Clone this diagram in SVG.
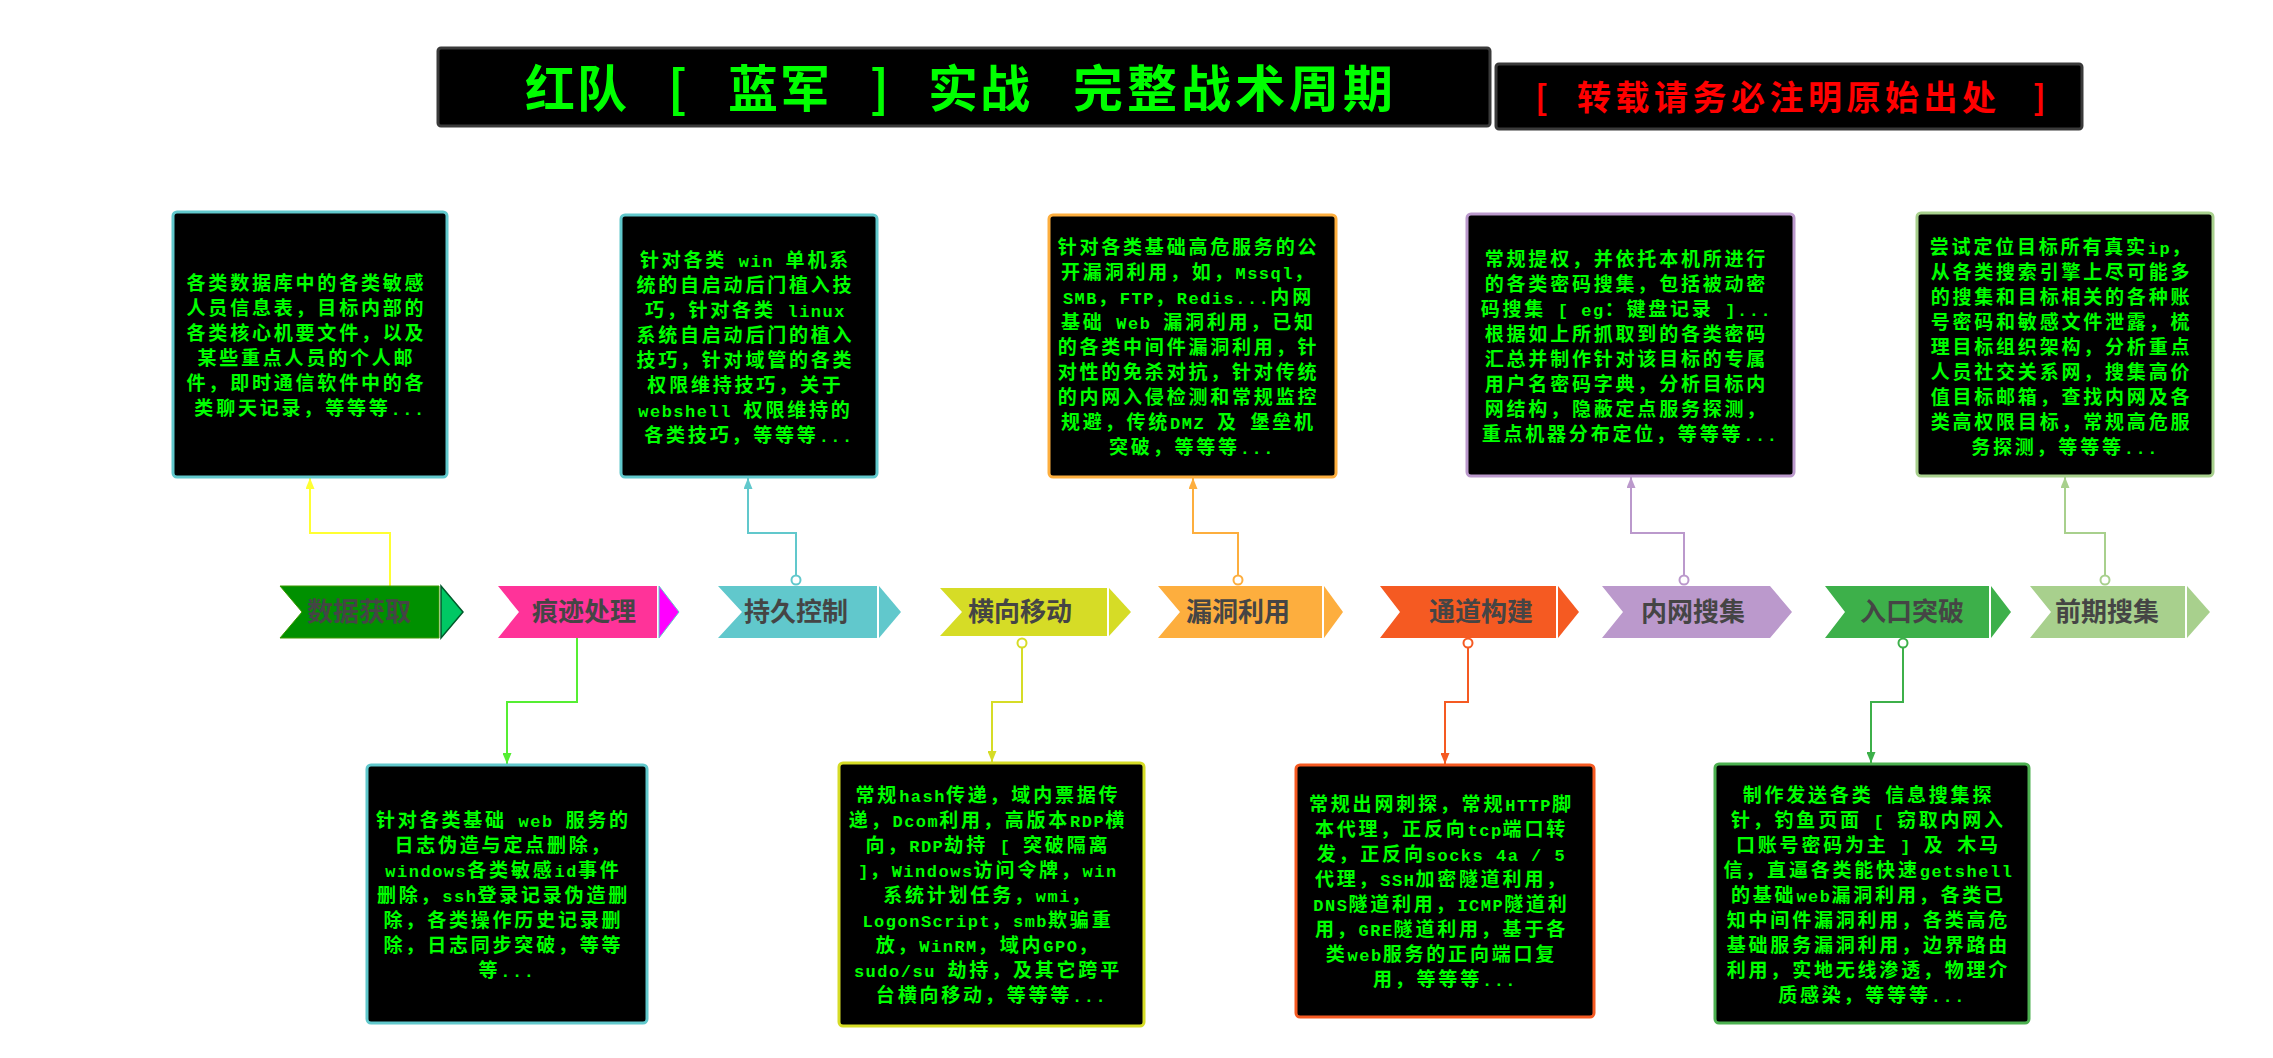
<svg xmlns="http://www.w3.org/2000/svg" width="2273" height="1058" viewBox="0 0 2273 1058">
<style>
.bx{fill:#000;stroke-width:3}
.t{font-family:"Noto Sans CJK SC",sans-serif;font-size:19px;font-weight:bold;fill:#00ff00;text-anchor:middle;letter-spacing:2.8px}
.a{font-family:"Liberation Mono",monospace;font-size:17px;letter-spacing:1.5px}
.lbl{font-family:"Noto Sans CJK SC",sans-serif;font-size:26px;font-weight:bold;fill:#454545;text-anchor:middle}
.c{fill:none;stroke-width:2}
.dot{fill:#fff;stroke-width:2}
.hdr{fill:#000;stroke:#3a3a3a;stroke-width:3}
</style>
<defs>
<marker id="m1" viewBox="0 0 11 9" refX="11" refY="4.5" markerWidth="11" markerHeight="9" markerUnits="userSpaceOnUse" orient="auto"><path d="M0,0 L11,4.5 L0,9z" fill="#ffff33"/></marker>
<marker id="m2" viewBox="0 0 11 9" refX="11" refY="4.5" markerWidth="11" markerHeight="9" markerUnits="userSpaceOnUse" orient="auto"><path d="M0,0 L11,4.5 L0,9z" fill="#55ee33"/></marker>
<marker id="m3" viewBox="0 0 11 9" refX="11" refY="4.5" markerWidth="11" markerHeight="9" markerUnits="userSpaceOnUse" orient="auto"><path d="M0,0 L11,4.5 L0,9z" fill="#61c8cc"/></marker>
<marker id="m4" viewBox="0 0 11 9" refX="11" refY="4.5" markerWidth="11" markerHeight="9" markerUnits="userSpaceOnUse" orient="auto"><path d="M0,0 L11,4.5 L0,9z" fill="#d6dc26"/></marker>
<marker id="m5" viewBox="0 0 11 9" refX="11" refY="4.5" markerWidth="11" markerHeight="9" markerUnits="userSpaceOnUse" orient="auto"><path d="M0,0 L11,4.5 L0,9z" fill="#fdae3e"/></marker>
<marker id="m6" viewBox="0 0 11 9" refX="11" refY="4.5" markerWidth="11" markerHeight="9" markerUnits="userSpaceOnUse" orient="auto"><path d="M0,0 L11,4.5 L0,9z" fill="#f55a22"/></marker>
<marker id="m7" viewBox="0 0 11 9" refX="11" refY="4.5" markerWidth="11" markerHeight="9" markerUnits="userSpaceOnUse" orient="auto"><path d="M0,0 L11,4.5 L0,9z" fill="#bb99cc"/></marker>
<marker id="m8" viewBox="0 0 11 9" refX="11" refY="4.5" markerWidth="11" markerHeight="9" markerUnits="userSpaceOnUse" orient="auto"><path d="M0,0 L11,4.5 L0,9z" fill="#3db04a"/></marker>
<marker id="m9" viewBox="0 0 11 9" refX="11" refY="4.5" markerWidth="11" markerHeight="9" markerUnits="userSpaceOnUse" orient="auto"><path d="M0,0 L11,4.5 L0,9z" fill="#a8d08d"/></marker>
</defs>
<rect width="2273" height="1058" fill="#fff"/>

<g id="title">
<rect class="hdr" x="438" y="48" width="1052" height="78" rx="3"/>
<text font-family="'Noto Sans CJK SC',sans-serif" font-size="50" font-weight="bold" fill="#00ff00" letter-spacing="2"><tspan x="525" y="107">红队</tspan><tspan x="668" y="107">[</tspan><tspan x="728" y="107">蓝军</tspan><tspan x="870" y="107">]</tspan><tspan x="928" y="107">实战</tspan><tspan x="1073" y="107" letter-spacing="4">完整战术周期</tspan></text>
</g>
<g id="notice">
<rect class="hdr" x="1496" y="64" width="586" height="65" rx="3"/>
<text font-family="'Noto Sans CJK SC',sans-serif" font-size="34" font-weight="bold" fill="#ff0000" letter-spacing="4.5"><tspan x="1535" y="110">[</tspan><tspan x="1577" y="110">转载请务必注明原始出处</tspan><tspan x="2033" y="110">]</tspan></text>
</g>

<g id="connectors">
<path class="c" stroke="#ffff33" d="M390,586 V533 H310 V478" marker-end="url(#m1)"/>
<path class="c" stroke="#61c8cc" d="M796,575.5 V533 H748 V478" marker-end="url(#m3)"/>
<path class="c" stroke="#fdae3e" d="M1238,575.5 V533 H1193 V478" marker-end="url(#m5)"/>
<path class="c" stroke="#bb99cc" d="M1684,575.5 V533 H1631 V477" marker-end="url(#m7)"/>
<path class="c" stroke="#a8d08d" d="M2105,575.5 V533 H2065 V477" marker-end="url(#m9)"/>
<path class="c" stroke="#55ee33" d="M577,638 V702 H507 V764" marker-end="url(#m2)"/>
<path class="c" stroke="#d6dc26" d="M1022,647.5 V702 H992 V762" marker-end="url(#m4)"/>
<path class="c" stroke="#f55a22" d="M1468,647.5 V702 H1445 V764" marker-end="url(#m6)"/>
<path class="c" stroke="#3db04a" d="M1903,647.5 V702 H1871 V763" marker-end="url(#m8)"/>
<circle class="dot" stroke="#61c8cc" cx="796" cy="580" r="4.5"/>
<circle class="dot" stroke="#fdae3e" cx="1238" cy="580" r="4.5"/>
<circle class="dot" stroke="#bb99cc" cx="1684" cy="580" r="4.5"/>
<circle class="dot" stroke="#a8d08d" cx="2105" cy="580" r="4.5"/>
<circle class="dot" stroke="#d6dc26" cx="1022" cy="643" r="4.5"/>
<circle class="dot" stroke="#f55a22" cx="1468" cy="643" r="4.5"/>
<circle class="dot" stroke="#3db04a" cx="1903" cy="643" r="4.5"/>
</g>

<g id="step-sjhq">
<polygon points="280,586 439,586 439,638 280,638 302,612" fill="#009000" stroke="#3c9a00" stroke-width="1"/>
<polygon points="441,586 463,612 441,638" fill="#00c864" stroke="#005a2a" stroke-width="1.5"/>
<text class="lbl" x="359" y="621">数据获取</text>
</g>
<g id="step-hjcl">
<polygon points="498,586 657,586 657,638 498,638 519,612" fill="#ff3399"/>
<polygon points="659,586 679,612 659,638" fill="#ff00ff" stroke="#61c8cc" stroke-width="1"/>
<text class="lbl" x="584" y="621">痕迹处理</text>
</g>
<g id="step-cjkz">
<polygon points="718,586 877,586 877,638 718,638 742,612" fill="#61c8cc"/>
<polygon points="879,586 901,612 879,638" fill="#61c8cc"/>
<text class="lbl" x="796" y="621">持久控制</text>
</g>
<g id="step-hxyd">
<polygon points="940,588 1107,588 1107,636 940,636 962,612" fill="#d6dc26"/>
<polygon points="1109,588 1131,612 1109,636" fill="#d6dc26"/>
<text class="lbl" x="1020" y="621">横向移动</text>
</g>
<g id="step-ldly">
<polygon points="1158,586 1322,586 1322,638 1158,638 1180,612" fill="#fdae3e"/>
<polygon points="1324,586 1343,612 1324,638" fill="#fdae3e"/>
<text class="lbl" x="1238" y="621">漏洞利用</text>
</g>
<g id="step-tdgj">
<polygon points="1380,586 1556,586 1556,638 1380,638 1400,612" fill="#f55a22"/>
<polygon points="1558,586 1579,612 1558,638" fill="#f55a22"/>
<text class="lbl" x="1481" y="621">通道构建</text>
</g>
<g id="step-nwsj">
<polygon points="1602,586 1770,586 1792,612 1770,638 1602,638 1623,612" fill="#bb99cc"/>
<text class="lbl" x="1693" y="621">内网搜集</text>
</g>
<g id="step-rktp">
<polygon points="1825,586 1989,586 1989,638 1825,638 1845,612" fill="#3db04a"/>
<polygon points="1991,586 2011,612 1991,638" fill="#3db04a"/>
<text class="lbl" x="1912" y="621">入口突破</text>
</g>
<g id="step-qqsj">
<polygon points="2030,586 2185,586 2185,638 2030,638 2051,612" fill="#a8d08d"/>
<polygon points="2187,586 2210,612 2187,638" fill="#a8d08d"/>
<text class="lbl" x="2107" y="621">前期搜集</text>
</g>

<g id="box-sjhq">
<rect class="bx" x="173" y="212" width="274" height="265" rx="4" stroke="#61c8cc"/>
<text class="t">
<tspan x="310" y="290">各类数据库中的各类敏感</tspan>
<tspan x="310" y="315">人员信息表，目标内部的</tspan>
<tspan x="310" y="340">各类核心机要文件，以及</tspan>
<tspan x="310" y="365">某些重点人员的个人邮</tspan>
<tspan x="310" y="390">件，即时通信软件中的各</tspan>
<tspan x="310" y="415">类聊天记录，等等等<tspan class="a">...</tspan></tspan>
</text>
</g>
<g id="box-cjkz">
<rect class="bx" x="621" y="215" width="256" height="262" rx="4" stroke="#61c8cc"/>
<text class="t">
<tspan x="749" y="266.5">针对各类<tspan class="a"> win </tspan>单机系</tspan>
<tspan x="749" y="291.5">统的自启动后门植入技</tspan>
<tspan x="749" y="316.5">巧，针对各类<tspan class="a"> linux</tspan></tspan>
<tspan x="749" y="341.5">系统自启动后门的植入</tspan>
<tspan x="749" y="366.5">技巧，针对域管的各类</tspan>
<tspan x="749" y="391.5">权限维持技巧，关于</tspan>
<tspan x="749" y="416.5"><tspan class="a">webshell </tspan>权限维持的</tspan>
<tspan x="749" y="441.5">各类技巧，等等等<tspan class="a">...</tspan></tspan>
</text>
</g>
<g id="box-ldly">
<rect class="bx" x="1049" y="215" width="287" height="262" rx="4" stroke="#fdae3e"/>
<text class="t">
<tspan x="1192" y="254">针对各类基础高危服务的公</tspan>
<tspan x="1192" y="279">开漏洞利用，如，<tspan class="a">Mssql</tspan>，</tspan>
<tspan x="1192" y="304"><tspan class="a">SMB</tspan>，<tspan class="a">FTP</tspan>，<tspan class="a">Redis...</tspan>内网</tspan>
<tspan x="1192" y="329">基础<tspan class="a"> Web </tspan>漏洞利用，已知</tspan>
<tspan x="1192" y="354">的各类中间件漏洞利用，针</tspan>
<tspan x="1192" y="379">对性的免杀对抗，针对传统</tspan>
<tspan x="1192" y="404">的内网入侵检测和常规监控</tspan>
<tspan x="1192" y="429">规避，传统<tspan class="a">DMZ </tspan>及<tspan class="a"> </tspan>堡垒机</tspan>
<tspan x="1192" y="454">突破，等等等<tspan class="a">...</tspan></tspan>
</text>
</g>
<g id="box-nwsj">
<rect class="bx" x="1467" y="214" width="327" height="262" rx="4" stroke="#bb99cc"/>
<text class="t">
<tspan x="1630" y="265.5">常规提权，并依托本机所进行</tspan>
<tspan x="1630" y="290.5">的各类密码搜集，包括被动密</tspan>
<tspan x="1630" y="315.5">码搜集<tspan class="a">  [ eg</tspan>：键盘记录<tspan class="a"> ]...</tspan></tspan>
<tspan x="1630" y="340.5">根据如上所抓取到的各类密码</tspan>
<tspan x="1630" y="365.5">汇总并制作针对该目标的专属</tspan>
<tspan x="1630" y="390.5">用户名密码字典，分析目标内</tspan>
<tspan x="1630" y="415.5">网结构，隐蔽定点服务探测，</tspan>
<tspan x="1630" y="440.5">重点机器分布定位，等等等<tspan class="a">...</tspan></tspan>
</text>
</g>
<g id="box-qqsj">
<rect class="bx" x="1917" y="213" width="296" height="263" rx="4" stroke="#a8d08d"/>
<text class="t">
<tspan x="2065" y="254">尝试定位目标所有真实<tspan class="a">ip</tspan>，</tspan>
<tspan x="2065" y="279">从各类搜索引擎上尽可能多</tspan>
<tspan x="2065" y="304">的搜集和目标相关的各种账</tspan>
<tspan x="2065" y="329">号密码和敏感文件泄露，梳</tspan>
<tspan x="2065" y="354">理目标组织架构，分析重点</tspan>
<tspan x="2065" y="379">人员社交关系网，搜集高价</tspan>
<tspan x="2065" y="404">值目标邮箱，查找内网及各</tspan>
<tspan x="2065" y="429">类高权限目标，常规高危服</tspan>
<tspan x="2065" y="454">务探测，等等等<tspan class="a">...</tspan></tspan>
</text>
</g>
<g id="box-hjcl">
<rect class="bx" x="367" y="765" width="280" height="258" rx="4" stroke="#61c8cc"/>
<text class="t">
<tspan x="507" y="827">针对各类基础<tspan class="a"> web </tspan>服务的</tspan>
<tspan x="507" y="852">日志伪造与定点删除，</tspan>
<tspan x="507" y="877"><tspan class="a">windows</tspan>各类敏感<tspan class="a">id</tspan>事件</tspan>
<tspan x="507" y="902">删除，<tspan class="a">ssh</tspan>登录记录伪造删</tspan>
<tspan x="507" y="927">除，各类操作历史记录删</tspan>
<tspan x="507" y="952">除，日志同步突破，等等</tspan>
<tspan x="507" y="977">等<tspan class="a">...</tspan></tspan>
</text>
</g>
<g id="box-hxyd">
<rect class="bx" x="839" y="763" width="305" height="263" rx="4" stroke="#d6dc26"/>
<text class="t">
<tspan x="991.5" y="802">常规<tspan class="a">hash</tspan>传递，域内票据传</tspan>
<tspan x="991.5" y="827">递，<tspan class="a">Dcom</tspan>利用，高版本<tspan class="a">RDP</tspan>横</tspan>
<tspan x="991.5" y="852">向，<tspan class="a">RDP</tspan>劫持<tspan class="a"> [ </tspan>突破隔离</tspan>
<tspan x="991.5" y="877"><tspan class="a">]</tspan>，<tspan class="a">Windows</tspan>访问令牌，<tspan class="a">win</tspan></tspan>
<tspan x="991.5" y="902">系统计划任务，<tspan class="a">wmi</tspan>，</tspan>
<tspan x="991.5" y="927"><tspan class="a">LogonScript</tspan>，<tspan class="a">smb</tspan>欺骗重</tspan>
<tspan x="991.5" y="952">放，<tspan class="a">WinRM</tspan>，域内<tspan class="a">GPO</tspan>，</tspan>
<tspan x="991.5" y="977"><tspan class="a">sudo/su </tspan>劫持，及其它跨平</tspan>
<tspan x="991.5" y="1002">台横向移动，等等等<tspan class="a">...</tspan></tspan>
</text>
</g>
<g id="box-tdgj">
<rect class="bx" x="1296" y="765" width="298" height="252" rx="4" stroke="#f55a22"/>
<text class="t">
<tspan x="1445" y="811">常规出网刺探，常规<tspan class="a">HTTP</tspan>脚</tspan>
<tspan x="1445" y="836">本代理，正反向<tspan class="a">tcp</tspan>端口转</tspan>
<tspan x="1445" y="861">发，正反向<tspan class="a">socks 4a / 5</tspan></tspan>
<tspan x="1445" y="886">代理，<tspan class="a">SSH</tspan>加密隧道利用，</tspan>
<tspan x="1445" y="911"><tspan class="a">DNS</tspan>隧道利用，<tspan class="a">ICMP</tspan>隧道利</tspan>
<tspan x="1445" y="936">用，<tspan class="a">GRE</tspan>隧道利用，基于各</tspan>
<tspan x="1445" y="961">类<tspan class="a">web</tspan>服务的正向端口复</tspan>
<tspan x="1445" y="986">用，等等等<tspan class="a">...</tspan></tspan>
</text>
</g>
<g id="box-rktp">
<rect class="bx" x="1715" y="764" width="314" height="259" rx="4" stroke="#4cb050"/>
<text class="t">
<tspan x="1872" y="802">制作发送各类<tspan class="a"> </tspan>信息搜集探</tspan>
<tspan x="1872" y="827">针，钓鱼页面<tspan class="a"> [ </tspan>窃取内网入</tspan>
<tspan x="1872" y="852">口账号密码为主<tspan class="a"> ] </tspan>及<tspan class="a"> </tspan>木马</tspan>
<tspan x="1872" y="877">信，直逼各类能快速<tspan class="a">getshell</tspan></tspan>
<tspan x="1872" y="902">的基础<tspan class="a">web</tspan>漏洞利用，各类已</tspan>
<tspan x="1872" y="927">知中间件漏洞利用，各类高危</tspan>
<tspan x="1872" y="952">基础服务漏洞利用，边界路由</tspan>
<tspan x="1872" y="977">利用，实地无线渗透，物理介</tspan>
<tspan x="1872" y="1002">质感染，等等等<tspan class="a">...</tspan></tspan>
</text>
</g>
</svg>
